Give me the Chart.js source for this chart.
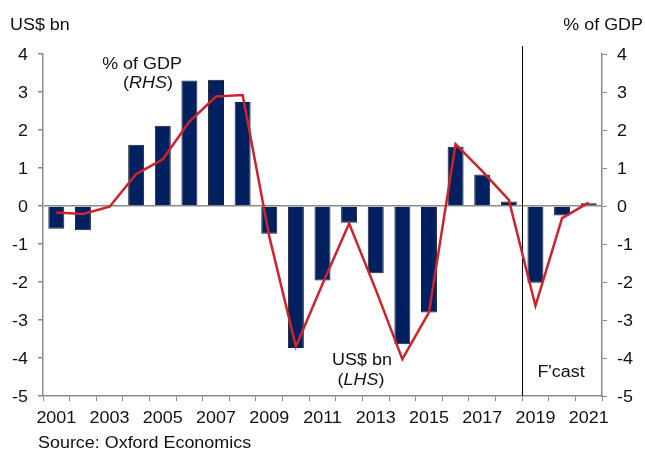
<!DOCTYPE html>
<html>
<head>
<meta charset="utf-8">
<title>US$ bn and % of GDP</title>
<script src="https://cdn.jsdelivr.net/npm/chart.js"></script>
<style>
  body { margin: 0; background: #fff; }
  canvas { display: block; }
</style>
</head>
<body>
<canvas id="chart" width="645" height="453"></canvas>
<script>
// ==================== DATA ====================
const years = ['2001','2002','2003','2004','2005','2006','2007','2008','2009','2010','2011',
               '2012','2013','2014','2015','2016','2017','2018','2019','2020','2021'];
const usdBn = [-0.60, -0.64, 0.03, 1.61, 2.11, 3.30, 3.32, 2.74, -0.73, -3.74, -1.96,
               -0.44, -1.77, -3.64, -2.80, 1.56, 0.83, 0.12, -2.02, -0.25, 0.07];
const pctGdp = [-0.17, -0.21, -0.02, 0.84, 1.23, 2.22, 2.88, 2.92, -0.80, -3.70, -2.05,
                -0.46, -2.20, -4.03, -2.80, 1.63, 0.92, 0.16, -2.63, -0.32, 0.09];
const yTicks = [4, 3, 2, 1, 0, -1, -2, -3, -4, -5];
const forecastStart = '2019';

// ==================== STYLE ====================
const FONT = "'Liberation Sans', Arial, sans-serif";
const SX = 1.12;           // source picture is a little wider than tall
const GREY = '#8c8c8c';
const INK = '#111';

function txt(ctx, s, x, y, align, size, italic) {
  ctx.save();
  ctx.translate(x, y);
  ctx.scale(SX, 1);
  ctx.font = (italic ? 'italic ' : '') + size + 'px ' + FONT;
  ctx.textAlign = align;
  ctx.textBaseline = 'alphabetic';
  ctx.fillStyle = INK;
  ctx.fillText(s, 0, 0);
  ctx.restore();
}

// label with italic middle part, e.g. "(RHS)"
function txtParen(ctx, inner, cx, y, size) {
  ctx.save();
  ctx.font = size + 'px ' + FONT;
  const wp = ctx.measureText('(').width, wq = ctx.measureText(')').width;
  ctx.font = 'italic ' + size + 'px ' + FONT;
  const wi = ctx.measureText(inner).width;
  ctx.restore();
  const total = (wp + wi + wq) * SX;
  let x = cx - total / 2;
  txt(ctx, '(', x, y, 'left', size); x += wp * SX;
  txt(ctx, inner, x, y, 'left', size, true); x += wi * SX;
  txt(ctx, ')', x, y, 'left', size);
}

const textPlugin = {
  id: 'texts',
  beforeDatasetsDraw(chart) {
    const { ctx, chartArea, scales: { x } } = chart;
    const i = years.indexOf(forecastStart);
    const fx = Math.round((x.getPixelForValue(i - 1) + x.getPixelForValue(i)) / 2) + 0.5;
    ctx.save();
    ctx.strokeStyle = '#000';
    ctx.lineWidth = 1;
    ctx.beginPath();
    ctx.moveTo(fx, chartArea.top - 8);
    ctx.lineTo(fx, chartArea.bottom);
    ctx.stroke();
    ctx.restore();
  },
  afterDraw(chart) {
    const { ctx, chartArea, scales: { x, y, y1 } } = chart;
    const fs = 16;
    yTicks.forEach(v => {
      txt(ctx, String(v), chartArea.left - 15, y.getPixelForValue(v) + 6, 'right', fs);
      txt(ctx, String(v), chartArea.right + 15, y1.getPixelForValue(v) + 6, 'left', fs);
    });
    years.forEach((yr, i) => {
      if (i % 2 === 0) txt(ctx, yr, x.getPixelForValue(i), 423, 'center', fs);
    });
    txt(ctx, 'US$ bn', 10, 30, 'left', fs);
    txt(ctx, '% of GDP', 643, 30, 'right', fs);
    txt(ctx, 'Source: Oxford Economics', 38, 448, 'left', fs);

    txt(ctx, '% of GDP', 142, 69, 'center', fs);
    txtParen(ctx, 'RHS', 148, 88, fs);
    txt(ctx, 'US$ bn', 362, 365, 'center', fs);
    txtParen(ctx, 'LHS', 361, 385, fs);
    txt(ctx, "F'cast", 561, 377, 'center', fs);
  }
};

// ==================== CHART ====================
new Chart(document.getElementById('chart'), {
  data: {
    labels: years,
    datasets: [
      {
        type: 'line', label: '% of GDP (RHS)', data: pctGdp, yAxisID: 'y1', order: 0,
        borderColor: '#d0222b', borderWidth: 2.5, pointRadius: 0, tension: 0, fill: false
      },
      {
        type: 'bar', label: 'US$ bn (LHS)', data: usdBn, yAxisID: 'y', order: 1,
        backgroundColor: '#002060', borderColor: '#1c1c2c', borderWidth: 1,
        barPercentage: 0.6, categoryPercentage: 1.0
      }
    ]
  },
  options: {
    responsive: false,
    animation: false,
    layout: { padding: { top: 54, left: 0, right: 0, bottom: 0 } },
    plugins: { legend: { display: false }, tooltip: { enabled: false } },
    scales: {
      x: {
        offset: true,
        grid: { offset: true, drawOnChartArea: false, color: GREY, tickLength: 5 },
        border: { color: GREY, width: 1.5 },
        ticks: { display: false },
        afterFit: s => { s.height = 57; }
      },
      y: {
        position: 'left', min: -5, max: 4,
        ticks: { display: false, stepSize: 1 },
        grid: {
          drawOnChartArea: true, tickLength: 5, tickColor: GREY,
          color: c => (c.tick && c.tick.value === 0) ? GREY : 'rgba(0,0,0,0)',
          lineWidth: 1.5
        },
        border: { color: GREY, width: 1.5 },
        afterFit: s => { s.width = 43; }
      },
      y1: {
        position: 'right', min: -5, max: 4,
        ticks: { display: false, stepSize: 1 },
        grid: { drawOnChartArea: false, tickLength: 5, color: GREY },
        border: { color: GREY, width: 1.5 },
        afterFit: s => { s.width = 43; }
      }
    }
  },
  plugins: [textPlugin]
});
</script>
</body>
</html>
